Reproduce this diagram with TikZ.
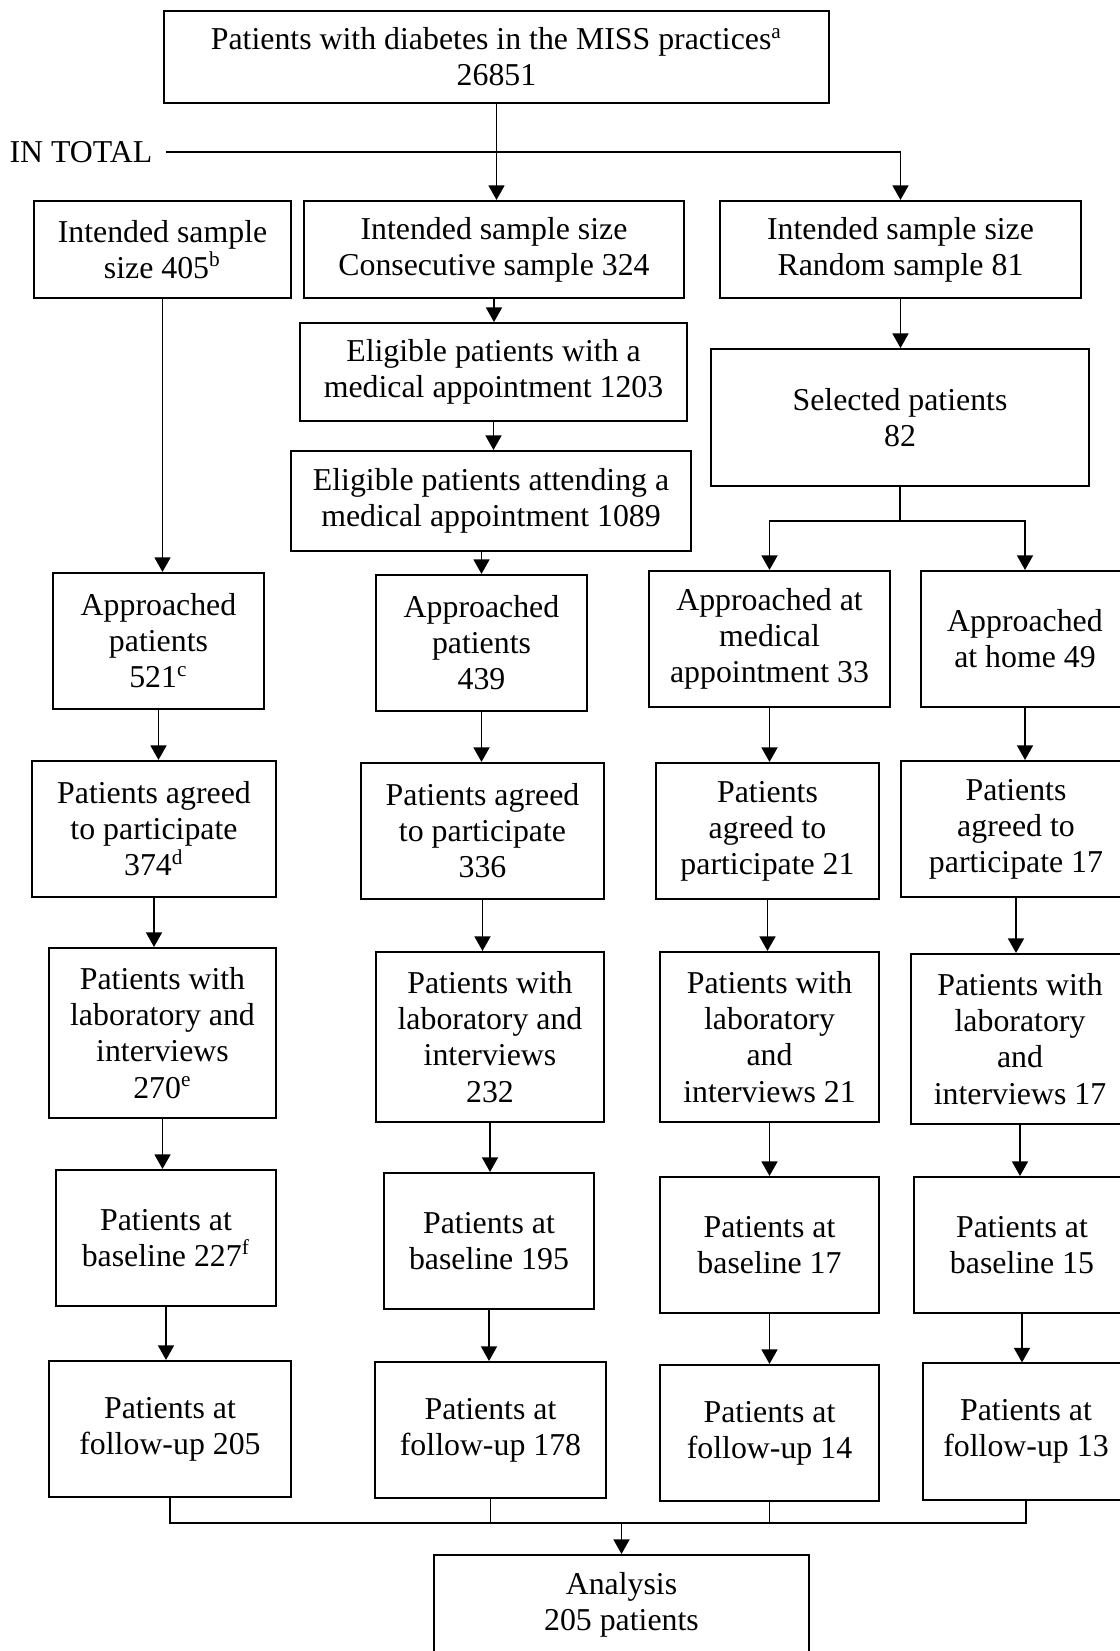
\documentclass[tikz,border=0pt]{standalone}
\usepackage{fontspec}
\setmainfont{Liberation Serif}
\usepackage{tikz}
\usetikzlibrary{arrows.meta}

\begin{document}
\begin{tikzpicture}[
  x=0.377pt, y=-0.377pt,
  every node/.style={font=\fontsize{12}{13.6}\selectfont, align=center},
  box/.style={draw, line width=0.75pt, inner sep=1pt},
  arr/.style={-{Triangle[length=5.5pt, width=6pt]}, line width=0.7pt},
  link/.style={line width=0.7pt}
]
\useasboundingbox[fill=white] (0,0) rectangle (1120,1651);

% population and intended samples
\node[box, minimum width=250.7pt, minimum height=34.7pt] (total) at (496.5,57) {Patients with diabetes in the MISS practices\textsuperscript{a}\\26851};
\node[anchor=west, inner sep=0pt] (intotal) at (9,152) {IN TOTAL};
\node[box, minimum width=96.9pt, minimum height=36.6pt] (isAll) at (162.5,249.5) {Intended sample\\size 405\textsuperscript{b}};
\node[box, minimum width=143.3pt, minimum height=36.6pt] (isCons) at (494,249.5) {Intended sample size\\Consecutive sample 324};
\node[box, minimum width=136.1pt, minimum height=36.6pt] (isRand) at (900.5,249.5) {Intended sample size\\Random sample 81};

% eligible / selected
\node[box, minimum width=145.9pt, minimum height=36.9pt] (eligAppt) at (493.5,372) {Eligible patients with a\\medical appointment 1203};
\node[box, minimum width=150.8pt, minimum height=37.7pt] (eligAttend) at (491,501) {Eligible patients attending a\\medical appointment 1089};
\node[box, minimum width=142.5pt, minimum height=51.6pt] (selected) at (900,417.5) {Selected patients\\82};

% approached
\node[box, minimum width=79.5pt, minimum height=51.3pt] (appA) at (158.5,641) {Approached\\patients\\521\textsuperscript{c}};
\node[box, minimum width=79.5pt, minimum height=51.3pt] (appB) at (481.5,643) {Approached\\patients\\439};
\node[box, minimum width=90.9pt, minimum height=51.3pt] (appC) at (769.5,639) {Approached at\\medical\\appointment 33};
\node[box, minimum width=78.4pt, minimum height=51.3pt] (appD) at (1025,639) {Approached\\at home 49};

% agreed
\node[box, minimum width=92pt, minimum height=51.3pt] (agrA) at (154,829) {Patients agreed\\to participate\\374\textsuperscript{d}};
\node[box, minimum width=91.6pt, minimum height=51.3pt] (agrB) at (482.5,831) {Patients agreed\\to participate\\336};
\node[box, minimum width=84.1pt, minimum height=51.3pt] (agrC) at (767.5,831) {Patients\\agreed to\\participate 21};
\node[box, minimum width=86.7pt, minimum height=51.3pt] (agrD) at (1016,829) {Patients\\agreed to\\participate 17};

% laboratory and interviews
\node[box, minimum width=85.6pt, minimum height=64.1pt] (labA) at (162.5,1033) {Patients with\\laboratory and\\interviews\\270\textsuperscript{e}};
\node[box, minimum width=86pt, minimum height=64.1pt] (labB) at (490,1037) {Patients with\\laboratory and\\interviews\\232};
\node[box, minimum width=82.6pt, minimum height=64.1pt] (labC) at (769.5,1037) {Patients with\\laboratory\\and\\interviews 21};
\node[box, minimum width=82.2pt, minimum height=64.1pt] (labD) at (1020,1039) {Patients with\\laboratory\\and\\interviews 17};

% baseline
\node[box, minimum width=82.9pt, minimum height=51.3pt] (baseA) at (166,1238) {Patients at\\baseline 227\textsuperscript{f}};
\node[box, minimum width=79.2pt, minimum height=51.3pt] (baseB) at (489,1241) {Patients at\\baseline 195};
\node[box, minimum width=82.6pt, minimum height=51.3pt] (baseC) at (769.5,1245) {Patients at\\baseline 17};
\node[box, minimum width=81.4pt, minimum height=51.3pt] (baseD) at (1022,1245) {Patients at\\baseline 15};

% follow-up
\node[box, minimum width=91.2pt, minimum height=51.3pt] (fupA) at (170,1429) {Patients at\\follow-up 205};
\node[box, minimum width=87.1pt, minimum height=51.3pt] (fupB) at (490.5,1430) {Patients at\\follow-up 178};
\node[box, minimum width=82.6pt, minimum height=51.3pt] (fupC) at (769.5,1433) {Patients at\\follow-up 14};
\node[box, minimum width=77.7pt, minimum height=51.3pt] (fupD) at (1026,1431.5) {Patients at\\follow-up 13};

\node[box, minimum width=141.4pt, minimum height=37.7pt] (analysis) at (621.5,1605) {Analysis\\205 patients};
\coordinate (merge) at (621.5,1523);

% connectors
\draw[arr] (total.south) -- (total.south |- isCons.north);
\draw[arr] ([xshift=5pt]intotal.east) -| (isRand.north);
\draw[arr] (isAll.south) -- (isAll.south |- appA.north);
\draw[arr] (isCons.south) -- (isCons.south |- eligAppt.north);
\draw[arr] (eligAppt.south) -- (eligAppt.south |- eligAttend.north);
\draw[arr] (eligAttend.south -| appB) -- (appB.north);
\draw[arr] (isRand.south) -- (isRand.south |- selected.north);
\draw[arr] (selected.south) -- ++(0,34) -| (appC.north);
\draw[arr] (selected.south) -- ++(0,34) -| (appD.north);

\draw[arr] (appA.south) -- (appA.south |- agrA.north);
\draw[arr] (agrA.south) -- (agrA.south |- labA.north);
\draw[arr] (labA.south) -- (labA.south |- baseA.north);
\draw[arr] (baseA.south) -- (baseA.south |- fupA.north);

\draw[arr] (appB.south) -- (appB.south |- agrB.north);
\draw[arr] (agrB.south) -- (agrB.south |- labB.north);
\draw[arr] (labB.south) -- (labB.south |- baseB.north);
\draw[arr] (baseB.south) -- (baseB.south |- fupB.north);

\draw[arr] (appC.south) -- (appC.south |- agrC.north);
\draw[arr] (agrC.south) -- (agrC.south |- labC.north);
\draw[arr] (labC.south) -- (labC.south |- baseC.north);
\draw[arr] (baseC.south) -- (baseC.south |- fupC.north);

\draw[arr] (appD.south) -- (appD.south |- agrD.north);
\draw[arr] (agrD.south) -- (agrD.south |- labD.north);
\draw[arr] (labD.south) -- (labD.south |- baseD.north);
\draw[arr] (baseD.south) -- (baseD.south |- fupD.north);

% merge into analysis
\draw[link] (fupA.south) |- (merge) -| (fupD.south);
\draw[link] (fupB.south) -- (fupB.south |- merge);
\draw[link] (fupC.south) -- (fupC.south |- merge);
\draw[arr] (merge) -- (analysis.north);
\end{tikzpicture}
\end{document}
